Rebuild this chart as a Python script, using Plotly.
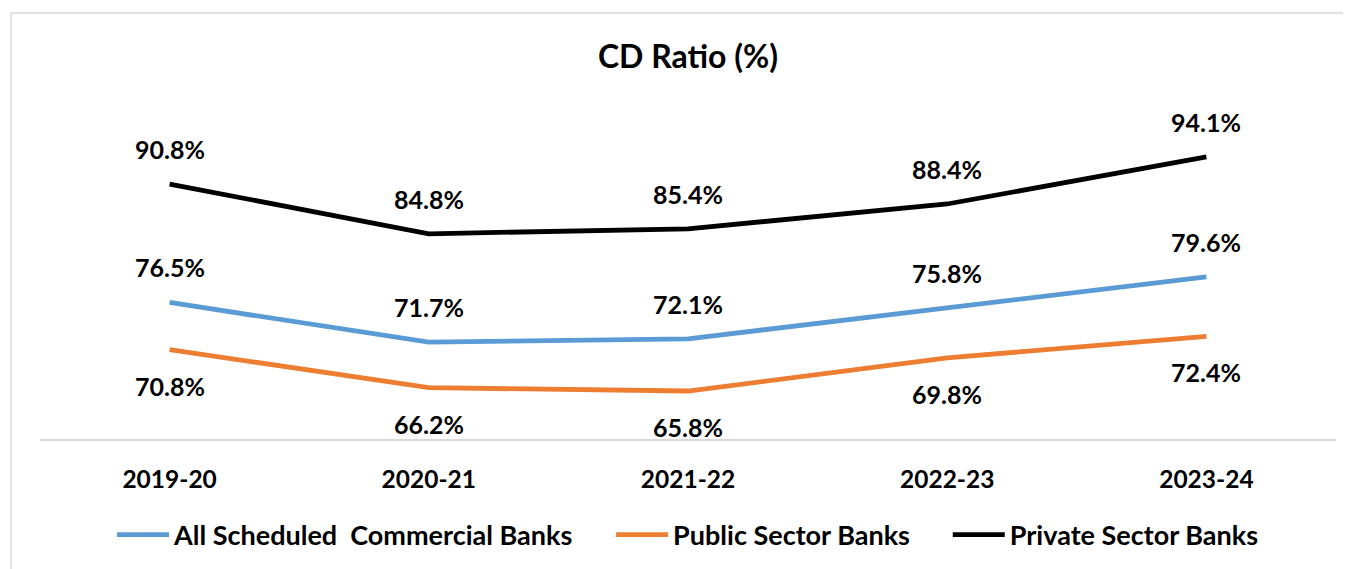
import plotly.graph_objects as go

categories = ["2019-20", "2020-21", "2021-22", "2022-23", "2023-24"]
all_scb = [76.5, 71.7, 72.1, 75.8, 79.6]
public_sector = [70.8, 66.2, 65.8, 69.8, 72.4]
private_sector = [90.8, 84.8, 85.4, 88.4, 94.1]
series_names = ["All Scheduled\u00a0 Commercial Banks", "Public Sector Banks", "Private Sector Banks"]

PAD = "\u00a0" * 5
series = [
    (series_names[0] + PAD, all_scb, "#5b9bd5", 35),
    (series_names[1] + PAD, public_sector, "#ed7d31", -36),
    (series_names[2], private_sector, "#000000", 35),
]

FONT = "Lato"
fig = go.Figure()
annotations = []
for name, vals, color, shift in series:
    fig.add_trace(go.Scatter(
        x=categories, y=vals, mode="lines", name=name,
        line=dict(color=color, width=4.8),
    ))
    for c, v in zip(categories, vals):
        annotations.append(dict(
            x=c, y=v, xref="x", yref="y", text=f"{v:.1f}%", showarrow=False,
            yshift=shift, yanchor="middle", xanchor="center",
            font=dict(family=FONT, size=25, color="#000000", weight="bold"),
        ))

fig.update_layout(
    width=1351, height=569,
    margin=dict(l=32, r=23, t=100, b=138),
    paper_bgcolor="white", plot_bgcolor="white",
    title=dict(text="<b>CD Ratio (%)</b>", x=0.5, xref="paper", xanchor="center",
               y=1 - 49 / 569, yref="container", yanchor="middle",
               font=dict(family=FONT, size=32, color="#000000")),
    xaxis=dict(type="category", range=[-0.5, 4.5], showgrid=False, zeroline=False,
               showline=True, linecolor="#d9d9d9", linewidth=1.5, ticks="",
               ticklabelstandoff=18,
               tickfont=dict(family=FONT, size=24.5, color="#000000", weight="bold")),
    yaxis=dict(range=[60, 100], showgrid=False, zeroline=False, showline=False,
               showticklabels=False, ticks=""),
    legend=dict(orientation="h", x=0.5, xanchor="center", y=-0.29, yanchor="middle",
                itemwidth=52,
                font=dict(family=FONT, size=27, color="#000000", weight="bold")),
    annotations=annotations,
    shapes=[dict(type="rect", xref="paper", yref="paper", x0=-0.0224, x1=1.05,
                 y0=-0.5, y1=1.287, line=dict(color="#d9d9d9", width=1.5),
                 fillcolor="rgba(0,0,0,0)", layer="below")],
)

fig.write_html("out.html")
